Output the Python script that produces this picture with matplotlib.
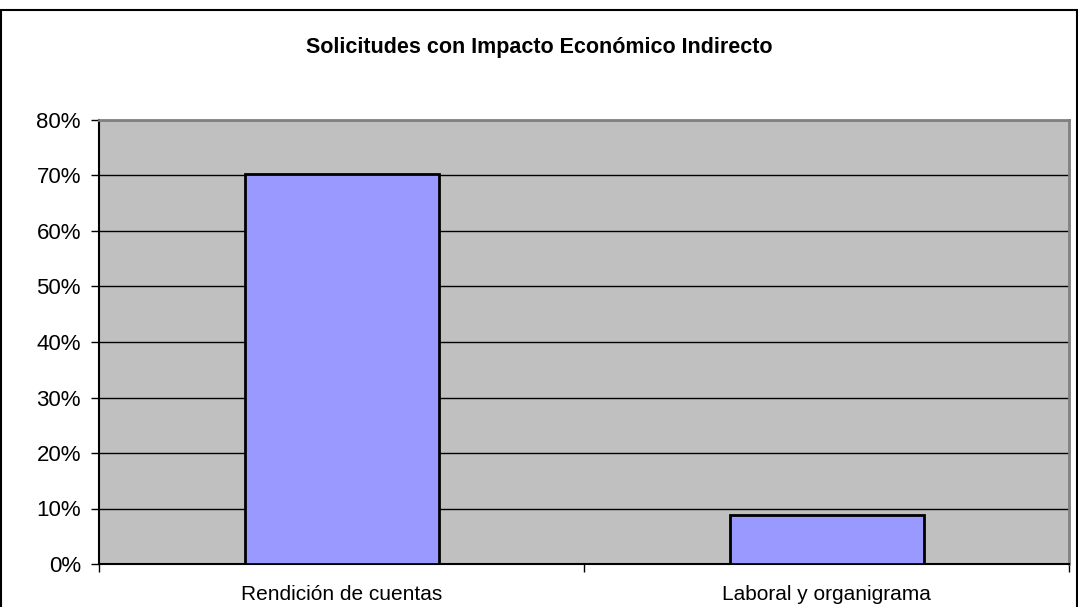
import matplotlib
matplotlib.use("Agg")
import matplotlib.pyplot as plt
from matplotlib.patches import Rectangle
from matplotlib.ticker import MultipleLocator, FuncFormatter, FixedLocator

plt.rcParams["font.family"] = ["Liberation Sans", "DejaVu Sans"]

categories = ["Rendición de cuentas", "Laboral y organigrama"]
values = [70.3, 8.9]
title = "Solicitudes con Impacto Económico Indirecto"

W, H = 1078, 607
fig = plt.figure(figsize=(W / 100, H / 100), dpi=100)
ax = fig.add_axes([99 / W, (H - 564) / H, 970 / W, 444 / H])
ax.set_facecolor("#C0C0C0")

x = list(range(len(categories)))
ax.bar(x, values, width=0.4, color="#9999FF", edgecolor="black", linewidth=2, zorder=3)

ax.set_xlim(-0.5, len(categories) - 0.5)
ax.set_ylim(0, 80)
ax.yaxis.set_major_locator(MultipleLocator(10))
ax.yaxis.set_major_formatter(FuncFormatter(lambda v, p: f"{v:.0f}%"))
ax.grid(axis="y", color="black", linewidth=1, zorder=1)

ax.xaxis.set_major_locator(FixedLocator([-0.5, 0.5, 1.5]))
ax.xaxis.set_major_formatter(FuncFormatter(lambda v, p: ""))
ax.xaxis.set_minor_locator(FixedLocator(x))
ax.set_xticklabels(categories, minor=True)
ax.tick_params(axis="x", which="minor", length=0, labelsize=15, pad=15)
ax.tick_params(axis="x", which="major", length=6, width=1, direction="out")
ax.tick_params(axis="y", length=6, width=1, labelsize=16, pad=7)

for s in ("left", "bottom"):
    ax.spines[s].set_color("black")
    ax.spines[s].set_linewidth(1.5)
for s in ("top", "right"):
    ax.spines[s].set_color("#808080")
    ax.spines[s].set_linewidth(2)

fig.text(0.5, 1 - 47 / H, title, ha="center", va="center", fontsize=15.5, fontweight="bold")

# outer chart border
fig.patches.append(Rectangle((0.5 / W, -0.1), (W - 1.5) / W, 1.1 - 10 / H,
                             transform=fig.transFigure, fill=False,
                             edgecolor="black", linewidth=1.5))

fig.savefig("out.png", dpi=100)
